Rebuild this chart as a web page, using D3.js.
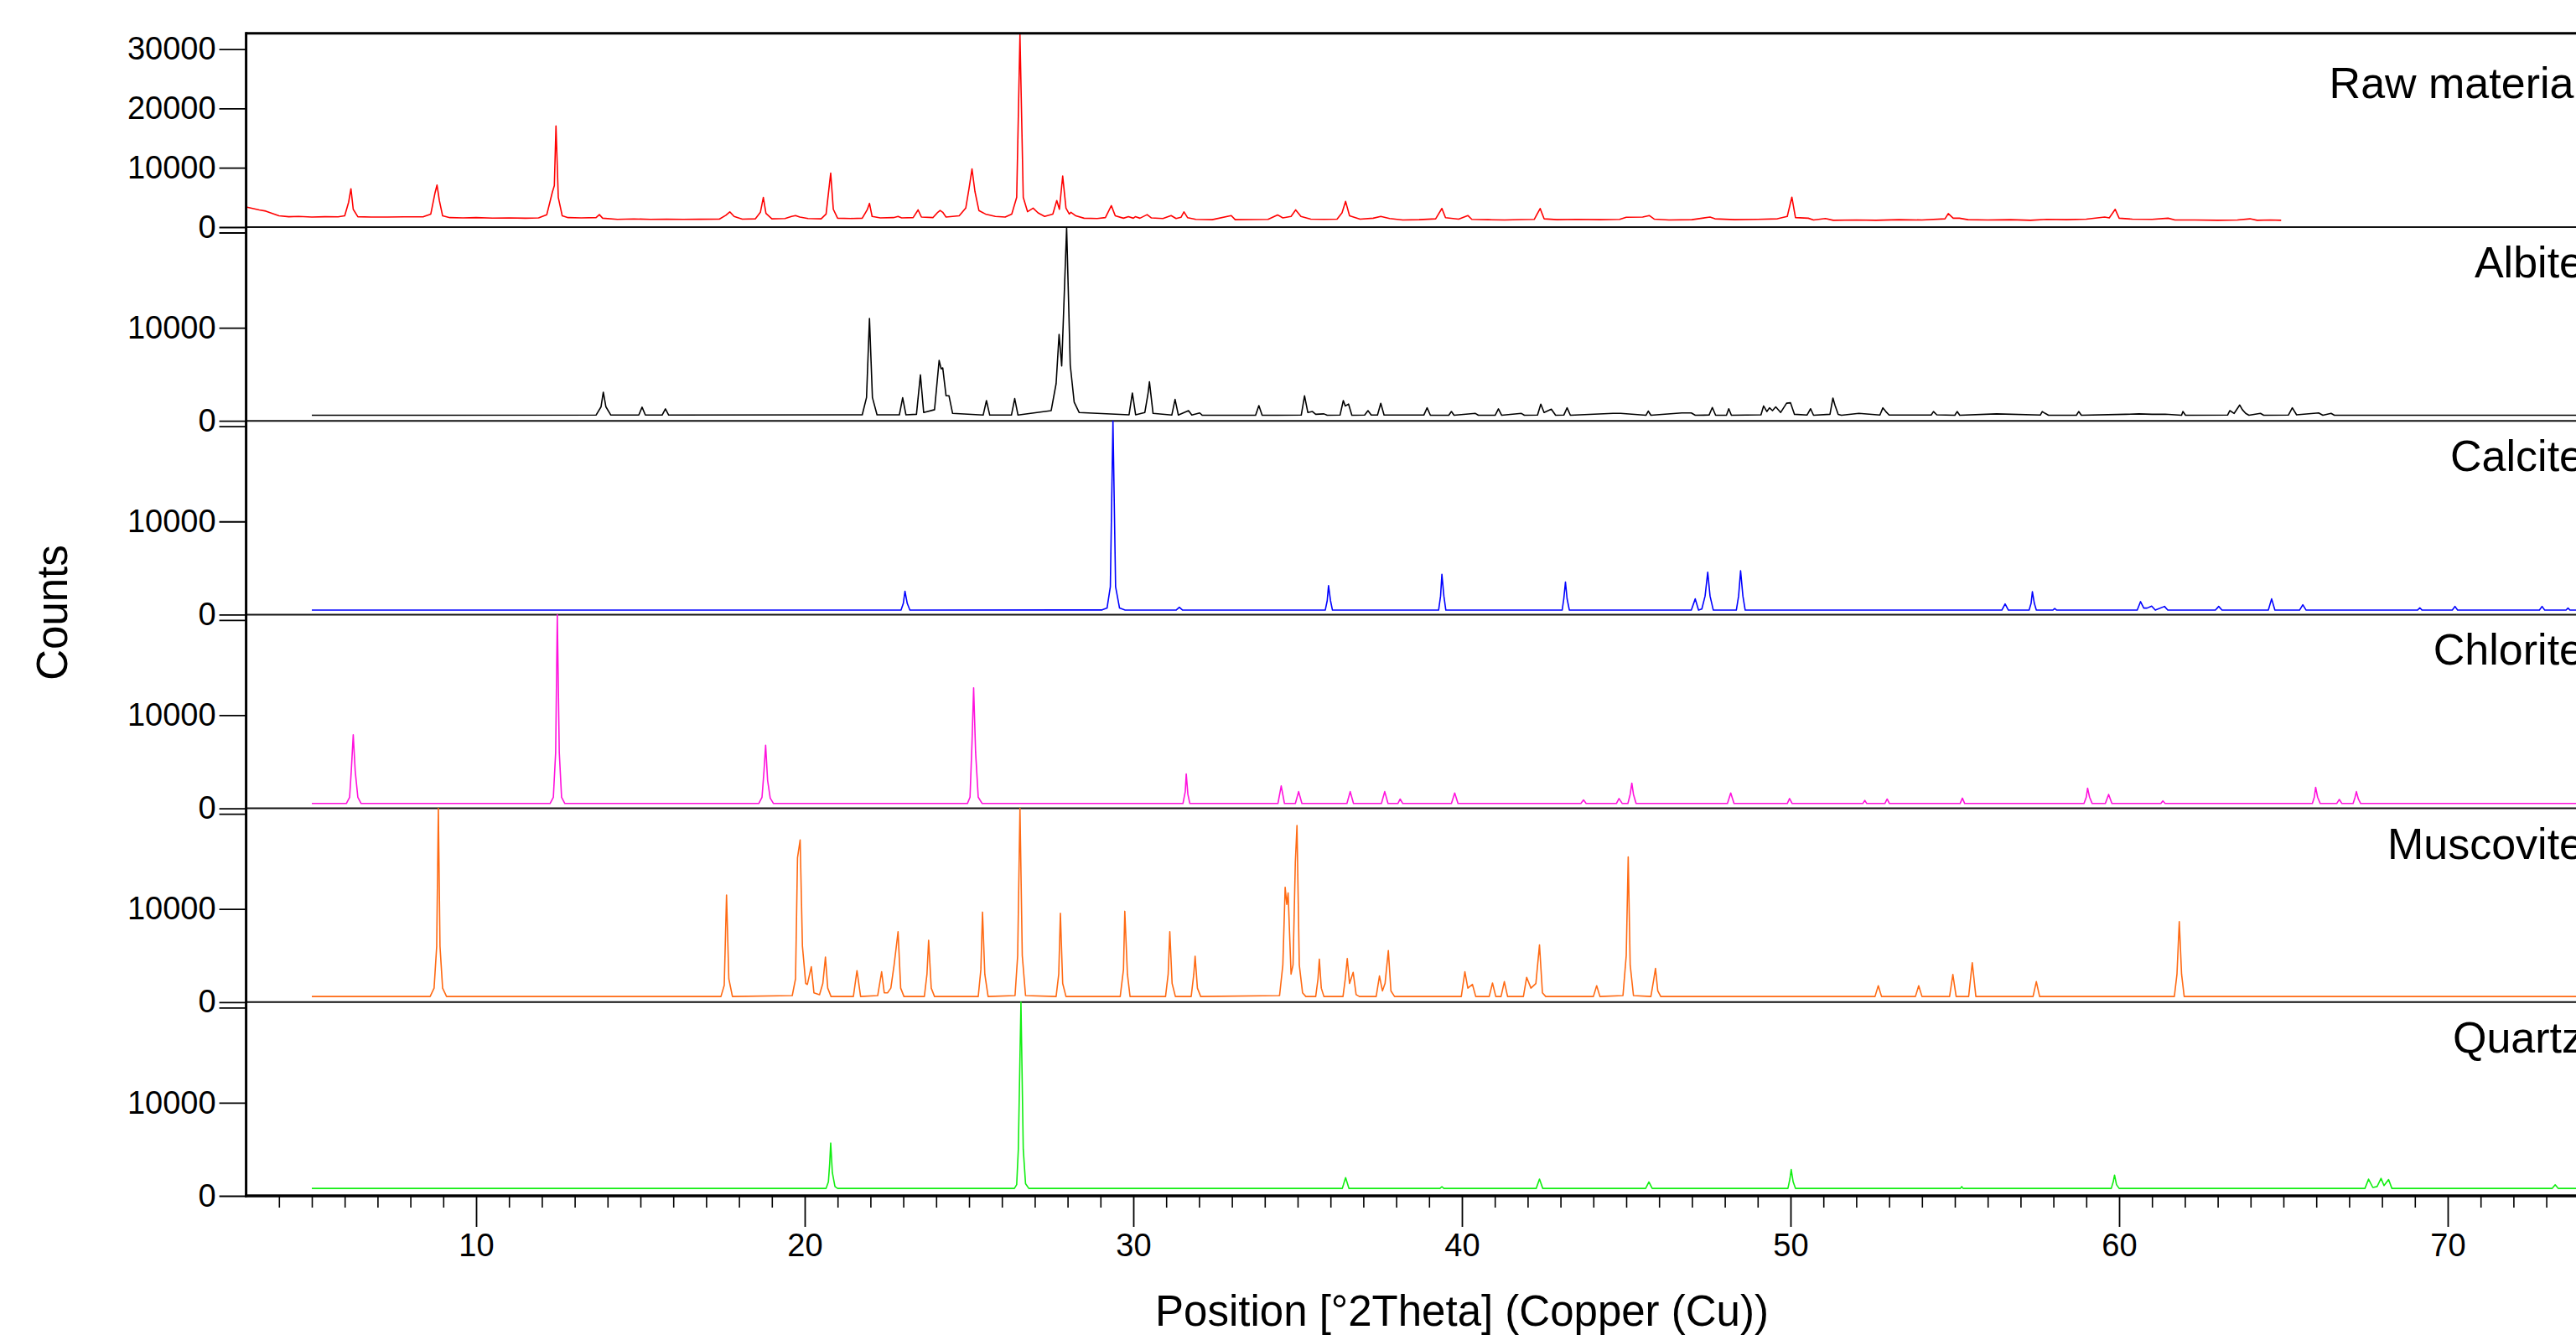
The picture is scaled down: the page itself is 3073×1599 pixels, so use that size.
<!DOCTYPE html>
<html>
<head>
<meta charset="utf-8">
<script src="https://cdn.jsdelivr.net/npm/d3@7"></script>
<style>
  html, body { margin: 0; padding: 0; background: #fff; overflow: hidden; }
  svg { display: block; font-family: "Liberation Sans", Arial, sans-serif; }
</style>
</head>
<body>
<svg id="chart" width="3073" height="1599"></svg>
<script>
// ---------------- DATA (2θ in degrees, counts) ----------------
const phaseNames = ["Raw material", "Albite", "Calcite", "Chlorite", "Muscovite", "Quartz"];
const phaseColors = ["#ff0000", "#000000", "#0000ff", "#ff11dd", "#ff6a13", "#11ee11"];
const rawTicks = [0, 10000, 20000, 30000];
const refTicks = [0, 10000];
const xMajorTicks = [10, 20, 30, 40, 50, 60, 70];
const xMinorTicks = [4,5,6,7,8,9,11,12,13,14,15,16,17,18,19,21,22,23,24,25,26,27,28,29,31,32,33,34,35,36,37,38,39,41,42,43,44,45,46,47,48,49,51,52,53,54,55,56,57,58,59,61,62,63,64,65,66,67,68,69,71,72,73,74];
const rawMax = 32650;
const refMax = 20800;

const rawMaterial = [[3.0,3400],[3.2,3150],[3.4,2900],[3.6,2700],[3.8,2300],[4.0,1900],[4.3,1750],[4.6,1800],[5.0,1700],[5.4,1750],[5.8,1720],[6.0,1900],[6.12,4200],[6.19,6470],[6.26,3000],[6.4,1750],[6.8,1700],[7.3,1700],[7.8,1720],[8.4,1750],[8.62,2200],[8.75,5800],[8.81,7090],[8.88,4500],[8.98,1900],[9.2,1600],[9.6,1550],[10.0,1600],[10.5,1520],[11.0,1560],[11.5,1500],[11.9,1560],[12.15,2100],[12.32,5900],[12.38,7000],[12.43,17040],[12.5,5000],[12.62,1900],[12.8,1600],[13.2,1550],[13.65,1600],[13.75,2100],[13.85,1500],[14.3,1300],[14.8,1380],[15.3,1300],[15.8,1350],[16.3,1300],[16.8,1320],[17.4,1350],[17.6,2000],[17.72,2570],[17.85,1800],[18.1,1350],[18.5,1400],[18.65,2500],[18.74,5000],[18.82,2300],[19.0,1400],[19.4,1450],[19.6,1800],[19.72,1950],[19.85,1700],[20.1,1450],[20.5,1400],[20.65,2200],[20.79,9090],[20.87,3000],[21.0,1500],[21.4,1450],[21.75,1500],[21.9,2900],[21.97,4000],[22.05,1800],[22.3,1550],[22.7,1600],[22.84,1800],[22.95,1550],[23.3,1600],[23.45,2900],[23.55,1700],[23.9,1600],[24.05,2500],[24.12,2800],[24.2,2500],[24.3,1700],[24.7,1900],[24.9,3200],[25.0,6500],[25.09,9800],[25.18,6000],[25.3,2800],[25.5,2200],[25.8,1800],[26.1,1700],[26.3,2200],[26.45,5000],[26.55,32400],[26.65,5000],[26.78,2600],[26.95,3200],[27.1,2400],[27.3,1800],[27.55,2200],[27.67,4470],[27.75,3000],[27.85,8600],[27.95,3200],[28.05,2200],[28.1,2500],[28.25,1900],[28.5,1500],[28.9,1450],[29.15,1600],[29.33,3620],[29.45,1900],[29.7,1500],[29.85,1750],[30.0,1500],[30.06,1750],[30.2,1500],[30.42,2100],[30.55,1550],[30.9,1450],[31.15,1950],[31.3,1450],[31.45,1650],[31.54,2570],[31.65,1600],[31.9,1300],[32.4,1250],[32.98,1950],[33.1,1250],[33.6,1280],[34.1,1300],[34.39,2050],[34.55,1550],[34.8,1800],[34.94,2900],[35.1,1800],[35.4,1350],[35.8,1300],[36.2,1350],[36.35,2400],[36.46,4330],[36.58,1900],[36.9,1350],[37.3,1500],[37.53,1800],[37.8,1450],[38.2,1200],[38.7,1250],[39.2,1400],[39.39,3140],[39.5,1600],[39.9,1350],[40.18,1950],[40.3,1300],[40.8,1250],[41.3,1200],[41.8,1280],[42.2,1300],[42.38,3140],[42.5,1400],[42.9,1250],[43.5,1300],[44.2,1250],[44.8,1300],[45.0,1650],[45.5,1700],[45.7,1950],[45.85,1350],[46.3,1200],[47.0,1250],[47.55,1700],[47.7,1400],[48.3,1250],[49.0,1300],[49.6,1400],[49.9,1800],[50.04,5050],[50.15,1600],[50.54,1500],[50.7,1200],[51.06,1450],[51.3,1150],[52.0,1200],[52.6,1150],[53.3,1250],[54.0,1200],[54.7,1400],[54.8,2280],[54.95,1500],[55.14,1500],[55.4,1250],[56.0,1200],[56.7,1250],[57.3,1150],[57.8,1300],[58.4,1250],[59.0,1350],[59.56,1700],[59.7,1550],[59.88,3000],[60.0,1500],[60.4,1350],[61.0,1300],[61.49,1500],[61.7,1200],[62.3,1200],[63.0,1150],[63.6,1200],[63.98,1400],[64.2,1150],[64.6,1200],[64.93,1150]];

const albite = [[5,600],[13.65,620],[13.8,1500],[13.87,3080],[13.95,1500],[14.1,620],[14.95,620],[15.05,1465],[15.15,620],[15.66,620],[15.76,1290],[15.86,620],[21.75,650],[21.88,2500],[21.97,11000],[22.06,2500],[22.2,650],[22.88,650],[22.98,2480],[23.08,650],[23.4,700],[23.52,4930],[23.62,900],[23.95,1200],[24.09,6490],[24.15,5600],[24.2,5680],[24.3,2700],[24.39,2690],[24.5,800],[25.43,620],[25.53,2180],[25.63,620],[26.29,620],[26.39,2390],[26.49,620],[27.5,1100],[27.65,4000],[27.74,9270],[27.82,5890],[27.97,20720],[28.08,6000],[28.2,2000],[28.35,900],[29.87,650],[29.97,2990],[30.07,650],[30.35,900],[30.45,3000],[30.49,4190],[30.6,800],[31.17,620],[31.27,2300],[31.37,620],[31.68,1100],[31.78,620],[32.02,850],[32.1,600],[33.72,600],[33.82,1640],[33.92,600],[35.11,620],[35.21,2690],[35.31,900],[35.45,1000],[35.55,700],[35.8,750],[35.9,600],[36.29,620],[36.39,2180],[36.45,1600],[36.55,1800],[36.65,600],[37.04,620],[37.14,1100],[37.24,620],[37.43,620],[37.53,1880],[37.63,620],[38.84,620],[38.94,1400],[39.04,600],[39.6,600],[39.68,1000],[39.76,600],[40.41,800],[40.5,600],[41.01,600],[41.11,1290],[41.21,600],[41.81,800],[41.9,600],[42.3,620],[42.4,1790],[42.5,900],[42.72,1250],[42.85,600],[43.1,620],[43.2,1400],[43.3,600],[44.6,800],[44.83,800],[45.6,600],[45.67,1050],[45.75,600],[46.69,850],[46.98,850],[47.1,600],[47.52,620],[47.62,1435],[47.72,600],[48.05,600],[48.12,1300],[48.2,600],[49.1,650],[49.18,1600],[49.28,1000],[49.36,1400],[49.45,1100],[49.55,1500],[49.7,900],[49.88,1900],[50.0,1940],[50.12,700],[50.5,620],[50.61,1300],[50.7,600],[51.2,700],[51.29,2450],[51.35,1700],[51.45,700],[51.55,600],[52.08,800],[52.72,620],[52.81,1400],[52.9,1000],[53.0,620],[54.28,620],[54.35,1000],[54.45,650],[55.0,600],[55.07,1000],[55.15,600],[56.27,750],[57.6,620],[57.66,1000],[57.75,800],[57.85,600],[58.7,600],[58.77,1000],[58.85,600],[60.2,700],[60.6,750],[61.0,700],[61.4,720],[61.9,600],[61.94,1000],[62.02,600],[63.3,620],[63.37,1100],[63.5,800],[63.67,1700],[63.75,1200],[63.85,800],[63.95,600],[64.3,800],[64.4,600],[65.15,620],[65.27,1400],[65.4,650],[66.07,850],[66.2,600],[66.45,800],[66.55,600],[75,600]];

const calcite = [[5,480],[22.93,480],[23.0,1200],[23.05,2510],[23.12,1200],[23.2,480],[29.05,500],[29.2,700],[29.3,3000],[29.38,20800],[29.46,3000],[29.58,700],[29.75,480],[31.3,480],[31.4,785],[31.5,480],[35.84,480],[35.9,1500],[35.94,3110],[36.0,1500],[36.06,480],[39.29,480],[39.35,2000],[39.39,4320],[39.45,2000],[39.51,480],[43.05,480],[43.1,1700],[43.15,3500],[43.2,1700],[43.27,480],[46.98,480],[47.1,1690],[47.2,480],[47.3,600],[47.4,2000],[47.48,4560],[47.55,2000],[47.65,480],[48.35,480],[48.42,2000],[48.48,4710],[48.55,2000],[48.62,480],[56.43,480],[56.53,1150],[56.63,480],[57.26,480],[57.32,1200],[57.36,2450],[57.42,1200],[57.48,480],[57.98,480],[58.04,650],[58.1,480],[60.55,480],[60.65,1390],[60.75,700],[60.85,700],[60.99,910],[61.1,480],[61.38,880],[61.48,480],[62.93,480],[63.03,880],[63.13,480],[64.54,480],[64.64,1690],[64.74,480],[65.49,480],[65.59,1057],[65.69,480],[69.08,480],[69.15,730],[69.22,480],[70.14,480],[70.22,880],[70.3,480],[72.79,480],[72.87,880],[72.95,480],[73.6,480],[73.66,700],[73.72,480],[75,480]];

const chlorite = [[5,520],[6.05,520],[6.15,1200],[6.2,4000],[6.26,7890],[6.32,4000],[6.4,1200],[6.5,520],[12.25,520],[12.35,1200],[12.42,6000],[12.47,20800],[12.53,6000],[12.6,1200],[12.7,520],[18.6,520],[18.7,1200],[18.76,4000],[18.81,6770],[18.87,3000],[18.95,1100],[19.05,520],[24.95,520],[25.03,1200],[25.09,7000],[25.14,12940],[25.2,6000],[25.28,1200],[25.4,520],[31.51,520],[31.58,1800],[31.61,3700],[31.66,1500],[31.72,520],[34.4,520],[34.5,2410],[34.6,520],[34.93,520],[35.03,1800],[35.13,520],[36.5,520],[36.6,1800],[36.7,520],[37.55,520],[37.65,1800],[37.75,520],[38.05,520],[38.12,1000],[38.2,520],[39.68,520],[39.78,1650],[39.88,520],[43.62,520],[43.7,900],[43.78,520],[44.7,520],[44.78,1050],[44.88,520],[45.05,520],[45.12,1500],[45.17,2710],[45.22,1500],[45.3,520],[48.08,520],[48.18,1650],[48.28,520],[49.9,520],[49.97,1050],[50.05,520],[52.2,520],[52.26,850],[52.32,520],[52.87,520],[52.94,1000],[53.01,520],[55.16,520],[55.23,1100],[55.3,520],[58.93,520],[59.0,1200],[59.04,2170],[59.1,1200],[59.18,520],[59.58,520],[59.68,1500],[59.78,520],[61.27,520],[61.33,800],[61.4,520],[65.88,520],[65.94,1200],[65.98,2260],[66.04,1200],[66.12,520],[66.62,520],[66.7,950],[66.78,520],[67.12,520],[67.18,1200],[67.22,1800],[67.28,1000],[67.35,520],[75,520]];

const muscovite = [[5,600],[8.6,600],[8.72,1500],[8.8,6000],[8.85,20800],[8.9,6000],[8.98,1500],[9.1,600],[17.45,600],[17.55,1800],[17.62,11500],[17.69,2500],[17.8,600],[19.62,700],[19.72,2500],[19.78,15500],[19.86,17400],[19.93,6000],[20.03,2000],[20.08,1900],[20.2,3800],[20.28,1000],[20.45,800],[20.55,2000],[20.63,4830],[20.7,1500],[20.8,600],[21.48,600],[21.59,3380],[21.7,600],[22.22,700],[22.34,3260],[22.42,1000],[22.52,1000],[22.62,1500],[22.72,4000],[22.84,7550],[22.92,1500],[23.02,600],[23.64,600],[23.72,3000],[23.77,6640],[23.85,1500],[23.95,600],[25.28,600],[25.36,3500],[25.41,9660],[25.48,3000],[25.58,600],[26.4,700],[26.48,5000],[26.55,20800],[26.62,5000],[26.72,700],[27.65,600],[27.73,3000],[27.78,9540],[27.85,2000],[27.95,600],[29.6,600],[29.7,3500],[29.74,9750],[29.82,3000],[29.9,600],[30.98,600],[31.06,3000],[31.11,7550],[31.18,2000],[31.28,600],[31.76,600],[31.84,3000],[31.88,4920],[31.95,1500],[32.05,600],[34.45,700],[34.55,4000],[34.62,12320],[34.67,10500],[34.71,11720],[34.8,3000],[34.86,4000],[34.93,15000],[34.98,18960],[35.05,4000],[35.15,1000],[35.25,600],[35.55,600],[35.62,2500],[35.66,4620],[35.72,1500],[35.8,600],[36.38,600],[36.45,2500],[36.51,4680],[36.58,2000],[36.69,3200],[36.78,800],[36.88,600],[37.39,600],[37.49,2810],[37.58,1200],[37.66,2000],[37.76,5530],[37.84,1200],[37.95,600],[39.98,600],[40.09,3260],[40.18,1500],[40.32,1900],[40.42,600],[40.83,600],[40.93,2050],[41.03,600],[41.19,600],[41.29,2200],[41.39,600],[41.87,600],[41.97,2660],[42.1,1500],[42.25,2000],[42.36,6130],[42.45,1000],[42.55,600],[44.0,600],[44.1,1750],[44.2,600],[44.9,700],[45.0,5000],[45.06,15580],[45.12,4000],[45.22,700],[45.75,600],[45.84,2500],[45.89,3620],[45.96,1200],[46.05,600],[52.57,600],[52.67,1750],[52.77,600],[53.8,600],[53.9,1750],[54.0,600],[54.84,600],[54.94,2960],[55.04,600],[55.42,600],[55.53,4230],[55.64,600],[57.38,600],[57.48,2200],[57.58,600],[61.68,600],[61.76,3000],[61.83,8640],[61.9,3000],[61.98,600],[75,600]];

const quartz = [[5,800],[20.65,800],[20.72,1500],[20.76,3500],[20.79,5660],[20.84,2500],[20.92,1000],[21.0,800],[26.38,800],[26.45,1200],[26.5,5000],[26.58,20800],[26.65,5000],[26.72,1300],[26.82,800],[36.36,800],[36.46,1950],[36.56,800],[39.33,800],[39.39,990],[39.45,800],[42.26,800],[42.36,1790],[42.46,800],[45.59,800],[45.69,1490],[45.79,800],[49.92,800],[49.98,1800],[50.02,2830],[50.08,1500],[50.15,800],[55.17,800],[55.21,1000],[55.25,800],[59.76,800],[59.82,1500],[59.86,2230],[59.92,1200],[60.0,800],[67.48,800],[67.59,1790],[67.72,900],[67.85,1000],[67.97,1880],[68.06,1100],[68.2,1750],[68.3,800],[73.18,800],[73.27,1190],[73.36,800],[75,800]];

const series = [rawMaterial, albite, calcite, chlorite, muscovite, quartz];

// ---------------- LAYOUT ----------------
const svg = d3.select("#chart");
const font = "'Liberation Sans', Arial, sans-serif";
const plotLeft = 293.6;
const plotBottom = 1427;
const panelH = 231.2;
const nPanels = series.length;
const plotTop = plotBottom - nPanels * panelH;

const x = d3.scaleLinear().domain([3, 75]).range([plotLeft, plotLeft + 72 * 39.2]);

const panels = series.map((data, i) => {
  const top = plotTop + i * panelH;
  const bottom = top + panelH;
  const y = d3.scaleLinear().domain([0, i === 0 ? rawMax : refMax]).range([bottom, top]);
  return { data, top, bottom, y, name: phaseNames[i], color: phaseColors[i], ticks: i === 0 ? rawTicks : refTicks };
});

const defs = svg.append("defs");

panels.forEach((p, i) => {
  defs.append("clipPath").attr("id", "clip" + i)
    .append("rect").attr("x", plotLeft).attr("y", p.top - 1)
    .attr("width", 3073 - plotLeft).attr("height", panelH + 1);

  const line = d3.line().x(d => x(d[0])).y(d => p.y(d[1]));
  svg.append("path")
    .datum(p.data)
    .attr("clip-path", `url(#clip${i})`)
    .attr("fill", "none")
    .attr("stroke", p.color)
    .attr("stroke-width", 1.6)
    .attr("stroke-linejoin", "round")
    .attr("d", line);

  // y axis ticks
  const ax = svg.append("g").attr("transform", `translate(${plotLeft},0)`)
    .call(d3.axisLeft(p.y).tickValues(p.ticks).tickFormat(d3.format("d")).tickSize(32).tickPadding(4));
  ax.select(".domain").remove();
  ax.selectAll("line").attr("stroke", "#000").attr("stroke-width", 1.8);
  ax.selectAll("text").attr("font-family", font).attr("font-size", 38).attr("fill", "#000");

  // axis break mark below the zero of panels that sit above another
  if (i < nPanels - 1) {
    svg.append("line").attr("x1", plotLeft - 32).attr("x2", plotLeft)
      .attr("y1", p.bottom + 7).attr("y2", p.bottom + 7)
      .attr("stroke", "#000").attr("stroke-width", 1.8);
    // separator line
    svg.append("line").attr("x1", plotLeft).attr("x2", 3073)
      .attr("y1", p.bottom).attr("y2", p.bottom)
      .attr("stroke", "#111").attr("stroke-width", 2);
  }

  // panel label
  svg.append("text")
    .attr("x", 3082)
    .attr("y", p.top + (i === 0 ? 77 : 60))
    .attr("text-anchor", "end")
    .attr("font-family", font).attr("font-size", 52).attr("fill", "#000")
    .text(p.name);
});

// frame: top border, left axis, bottom axis
svg.append("line").attr("x1", plotLeft).attr("x2", 3073).attr("y1", plotTop).attr("y2", plotTop)
  .attr("stroke", "#000").attr("stroke-width", 3);
svg.append("line").attr("x1", plotLeft).attr("x2", plotLeft).attr("y1", plotTop - 1.5).attr("y2", plotBottom + 1.5)
  .attr("stroke", "#000").attr("stroke-width", 3);
svg.append("line").attr("x1", plotLeft - 1.5).attr("x2", 3073).attr("y1", plotBottom).attr("y2", plotBottom)
  .attr("stroke", "#000").attr("stroke-width", 3.5);

// x axis: minor and major ticks
const xMinor = svg.append("g").attr("transform", `translate(0,${plotBottom})`)
  .call(d3.axisBottom(x).tickValues(xMinorTicks).tickSize(14).tickFormat(""));
xMinor.select(".domain").remove();
xMinor.selectAll("line").attr("stroke", "#000").attr("stroke-width", 1.6);

const xMajor = svg.append("g").attr("transform", `translate(0,${plotBottom})`)
  .call(d3.axisBottom(x).tickValues(xMajorTicks).tickSize(37).tickPadding(8).tickFormat(d3.format("d")));
xMajor.select(".domain").remove();
xMajor.selectAll("line").attr("stroke", "#000").attr("stroke-width", 1.8);
xMajor.selectAll("text").attr("font-family", font).attr("font-size", 38).attr("fill", "#000");

// axis titles
svg.append("text")
  .attr("x", 1744).attr("y", 1582)
  .attr("text-anchor", "middle")
  .attr("font-family", font).attr("font-size", 51).attr("fill", "#000")
  .text("Position [°2Theta] (Copper (Cu))");

svg.append("text")
  .attr("transform", "translate(80,731) rotate(-90)")
  .attr("text-anchor", "middle")
  .attr("font-family", font).attr("font-size", 51).attr("fill", "#000")
  .text("Counts");
</script>
</body>
</html>
